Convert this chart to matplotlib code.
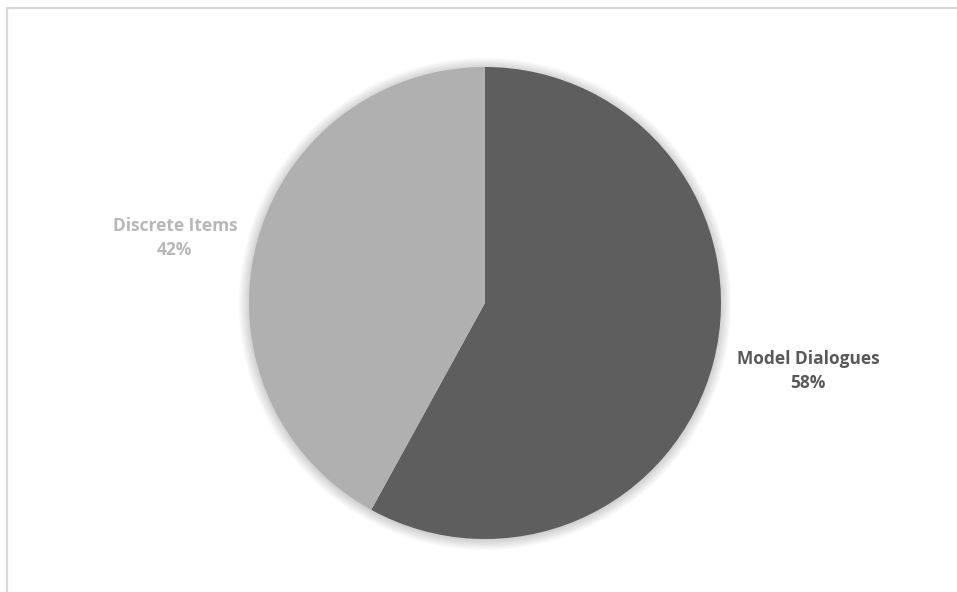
import numpy as np
import matplotlib.pyplot as plt
from matplotlib.patches import Circle, Rectangle

# slice data
categories = ["Model Dialogues", "Discrete Items"]
shares = [58, 42]
slice_colors = ["#5e5e5e", "#b0b0b0"]
label_colors = ["#595959", "#b8b8b8"]

plt.rcParams['font.family'] = ['Open Sans', 'DejaVu Sans']

fig = plt.figure(figsize=(9.57, 5.92), dpi=100)
fig.patch.set_facecolor("white")

# light frame round the chart area
fig.add_artist(Rectangle((6.5 / 957, -0.05), 1.2, 1 - 7.5 / 592 + 0.05,
                         transform=fig.transFigure, fill=False,
                         edgecolor="#d9d9d9", linewidth=1.6))

ax = fig.add_axes([249 / 957, 53 / 592, 472 / 957, 472 / 592])

# soft shadow under the pie
for k in range(12):
    ax.add_patch(Circle((0, -0.004), 1.0 + 0.004 * k, color="black",
                        alpha=0.016, linewidth=0, zorder=0, clip_on=False))

wedges, _ = ax.pie(shares, colors=slice_colors, startangle=90,
                   counterclock=False, radius=1.0,
                   wedgeprops=dict(linewidth=0, zorder=2))

ax.set_xlim(-1, 1)
ax.set_ylim(-1, 1)
ax.set_aspect("equal")
ax.axis("off")

total = sum(shares)
label_pos = [(1.369, -0.288), (-1.314, 0.275)]
for name, val, col, (x, y) in zip(categories, shares, label_colors, label_pos):
    ax.text(x, y, f"{name}\n{val / total:.0%}", ha="center", va="center",
            color=col, fontsize=12.5, fontweight="bold", linespacing=1.45)

fig.savefig("out.png", dpi=100, facecolor="white")
